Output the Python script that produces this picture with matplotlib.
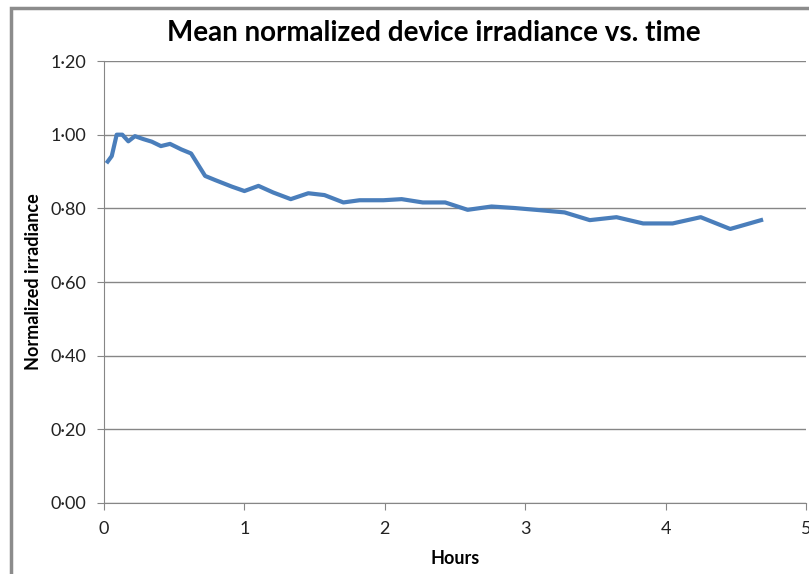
import matplotlib.pyplot as plt
from matplotlib.ticker import FuncFormatter
from matplotlib.patches import Rectangle

# hours vs mean normalized irradiance
hours = [0.026, 0.055, 0.09, 0.13, 0.173, 0.22, 0.28, 0.34, 0.405, 0.47,
         0.55, 0.62, 0.72, 0.79, 0.91, 1.0, 1.10, 1.205, 1.33, 1.455,
         1.57, 1.705, 1.82, 1.99, 2.12, 2.27, 2.43, 2.59, 2.76, 2.92,
         3.105, 3.28, 3.46, 3.65, 3.84, 4.05, 4.25, 4.46, 4.68]
irradiance = [0.927, 0.942, 1.0, 1.0, 0.982, 0.996, 0.988, 0.981, 0.969, 0.975,
              0.960, 0.949, 0.888, 0.877, 0.859, 0.847, 0.861, 0.843, 0.825, 0.841,
              0.836, 0.816, 0.822, 0.822, 0.825, 0.816, 0.816, 0.796, 0.805, 0.801,
              0.795, 0.789, 0.768, 0.776, 0.759, 0.759, 0.776, 0.744, 0.768]

x_ticks = [0, 1, 2, 3, 4, 5]
y_ticks = [0.0, 0.2, 0.4, 0.6, 0.8, 1.0, 1.2]

plt.rcParams['font.family'] = ['Lato', 'DejaVu Sans']

fig = plt.figure(figsize=(8.09, 5.74), dpi=100)
ax = fig.add_axes([0.1286, 0.1237, 0.8677, 0.770])

grid_col = '#868686'
ax.plot(hours, irradiance, color='#4a7ebb', linewidth=3.0, solid_joinstyle='round')

ax.set_xlim(0, 5)
ax.set_ylim(0, 1.2)
ax.set_xticks(x_ticks)
ax.set_yticks(y_ticks)
ax.yaxis.set_major_formatter(FuncFormatter(lambda v, p: ('%.2f' % v).replace('.', '\u00b7')))
ax.grid(axis='y', color=grid_col, linewidth=1.0)
ax.set_axisbelow(True)

for s in ['top', 'right']:
    ax.spines[s].set_visible(False)
for s in ['left', 'bottom']:
    ax.spines[s].set_color(grid_col)
ax.tick_params(axis='both', direction='out', length=5, color=grid_col, labelsize=13,
               labelcolor='#222222')
ax.tick_params(axis='y', pad=8)
ax.tick_params(axis='x', pad=8)

# title is centred on the whole chart box, not on the plot area
fig.text(434 / 809, 1 - 33 / 574, 'Mean normalized device irradiance vs. time',
         fontsize=20, fontweight='bold', ha='center', va='center')
ax.set_xlabel('Hours', fontsize=13, fontweight='bold', labelpad=9)
ax.set_ylabel('Normalized irradiance', fontsize=13, fontweight='bold', labelpad=6)

# outer chart frame, cut off at right and bottom
fig.patches.append(Rectangle((11 / 809, -0.1), 1.2, 1 - 8 / 574 + 0.1,
                             transform=fig.transFigure, fill=False,
                             edgecolor='#8c8c8c', linewidth=2.5))

fig.savefig('out.png', dpi=100)
